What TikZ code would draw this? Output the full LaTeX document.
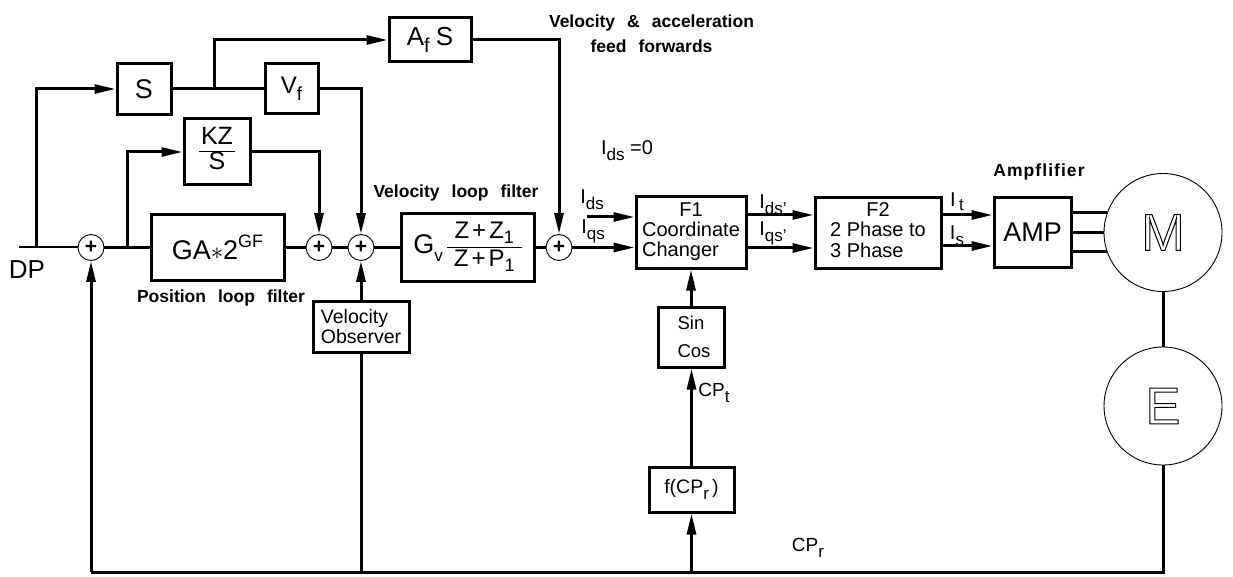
\documentclass[tikz,border=0pt]{standalone}
\usepackage{fontspec}
\setmainfont{Liberation Sans}
\usetikzlibrary{arrows.meta}
\newcommand{\fs}[1]{\fontsize{#1}{#1}\selectfont}
\newcommand{\Isb}[1]{I\raisebox{-0.3em}{\fs{17}#1}}
\newcommand{\outl}[1]{\special{pdf:literal direct 1 Tr 1 w}#1\special{pdf:literal direct 0 Tr}}
\newcommand{\wsp}{\spaceskip=12pt plus 2pt minus 1pt\relax}
\begin{document}
\begin{tikzpicture}[x=1pt,y=-1pt,
  blk/.style={draw, rectangle, line width=3pt, inner sep=0pt},
  sum/.style={draw, circle, line width=0.9pt, minimum size=26pt, inner sep=0pt, font=\fs{21}\bfseries},
  mach/.style={draw, circle, line width=0.9pt, minimum size=118pt, inner sep=0pt, font=\fs{52}},
  wire/.style={line width=3pt},
  arr/.style={line width=3pt, -{Triangle[length=21pt,width=9pt]}},
  sig/.style={inner sep=0pt, font=\fs{20}},
  lbl/.style={inner sep=0pt, font=\fs{17.5}\bfseries\wsp}
]
\useasboundingbox (0,0) rectangle (1233,577);

% blocks
\node[blk, minimum width=54pt, minimum height=51pt, font=\fs{27}] (S) at (144,89) {S};
\node[blk, minimum width=53pt, minimum height=50pt, font=\fs{24}] (Vf) at (291.5,89) {V\raisebox{-0.28em}{\fs{19}f}};
\node[blk, minimum width=82pt, minimum height=44pt, font=\fs{26}] (AfS) at (430,40) {A\raisebox{-0.28em}{\fs{20}f}\hspace{6pt}S};
\node[blk, minimum width=66pt, minimum height=66pt, font=\fs{25}] (KZ) at (217,152)
  {\setlength{\arrayrulewidth}{1.2pt}\renewcommand{\arraystretch}{0.85}\begin{tabular}{@{\hspace{2pt}}c@{\hspace{2pt}}}KZ\\\hline S\end{tabular}};
\node[blk, minimum width=133pt, minimum height=66pt, font=\fs{27}] (GA) at (217.5,247.5)
  {GA$\ast$2\raisebox{0.42em}{\fs{18}GF}};
\node[blk, minimum width=133pt, minimum height=67pt, font=\fs{27}] (Gv) at (467.5,247.5)
  {G\raisebox{-0.3em}{\fs{17}v}\hspace{4pt}\setlength{\arrayrulewidth}{1pt}\begin{tabular}{@{\hspace{7pt}}c@{\hspace{7pt}}}{\fs{24}Z\hspace{3pt}+\hspace{3pt}Z\raisebox{-0.2em}{\fs{18}1}}\\\hline{\fs{24}Z\hspace{3pt}+\hspace{3pt}P\raisebox{-0.2em}{\fs{18}1}}\end{tabular}};
\node[blk, minimum width=96pt, minimum height=51pt, font=\fs{19.5}, align=left] (VO) at (361,326.5) {Velocity\\Observer};
\node[blk, minimum width=110pt, minimum height=71pt, font=\fs{20}] (F1) at (691,232.5)
  {\begin{tabular}{@{}l@{}}\multicolumn{1}{@{}c@{}}{F1}\\Coordinate\\Changer\end{tabular}};
\node[blk, minimum width=126pt, minimum height=70pt, font=\fs{20}] (F2) at (878,233)
  {\begin{tabular}{@{}l@{}}\multicolumn{1}{@{}c@{}}{F2}\\2 Phase to\\3 Phase\end{tabular}};
\node[blk, minimum width=77pt, minimum height=70pt, font=\fs{27}] (AMP) at (1032.5,232.5) {AMP};
\node[blk, minimum width=66pt, minimum height=60pt, font=\fs{18.5}, align=center] (SC) at (691,337) {Sin\\[10pt]\hspace{6pt}Cos};
\node[blk, minimum width=85pt, minimum height=45pt, font=\fs{19.5}] (fCP) at (691.5,489.5) {f(CP\raisebox{-0.32em}{\fs{17}r}\,)};

% summing junctions
\node[sum] (s1) at (91,247.5) {+};
\node[sum] (s2) at (319,247.5) {+};
\node[sum] (s3) at (361,247.5) {+};
\node[sum] (s4) at (559,247.5) {+};

% machines
\node[mach] (M) at (1163,232.5) {\outl{M}};
\node[mach] (E) at (1163,406) {\outl{E}};

% coordinates
\coordinate (dpin) at (19,247.5);
\coordinate (j1) at (36,247.5);
\coordinate (j2) at (214,89);
\coordinate (j3) at (127,247.5);
\coordinate (idsin) at (587,217);
\coordinate (bl) at (91,572);
\coordinate (br) at (1163,572);

% connectors
\draw[line width=2pt] (dpin) -- (s1.west);
\draw[arr] (j1) |- (S.west);
\draw[wire] (S.east) -- (Vf.west);
\draw[arr] (j2) |- (AfS.west);
\draw[arr] (Vf.east) -| (s3.north);
\draw[arr] (AfS.east) -| (s4.north);
\draw[arr] (j3) |- (KZ.west);
\draw[arr] (KZ.east) -| (s2.north);
\draw[wire] (s1.east) -- (GA.west);
\draw[wire] (GA.east) -- (s2.west);
\draw[wire] (s2.east) -- (s3.west);
\draw[wire] (s3.east) -- (Gv.west);
\draw[wire] (Gv.east) -- (s4.west);
\draw[arr] (s4.east) -- (s4.east -| F1.west);
\draw[arr] (idsin) -- (idsin -| F1.west);
\draw[arr] ([yshift=17.5pt]F1.east) -- ([yshift=17.5pt]F1.east -| F2.west);
\draw[arr] ([yshift=-15.5pt]F1.east) -- ([yshift=-15.5pt]F1.east -| F2.west);
\draw[arr] ([yshift=18pt]F2.east) -- ([yshift=18pt]F2.east -| AMP.west);
\draw[arr] ([yshift=-13pt]F2.east) -- ([yshift=-13pt]F2.east -| AMP.west);
\draw[wire] (M.160 -| AMP.east) -- (M.160);
\draw[wire] (AMP.east) -- (M.west);
\draw[wire] (M.199 -| AMP.east) -- (M.199);
\draw[wire] (M.south) -- (E.north);
\draw[wire] (E.south) -- (br) -- (bl);
\draw[arr] (bl) -- (s1.south);
\draw[wire] (VO.south |- bl) -- (VO.south);
\draw[arr] (VO.north) -- (s3.south);
\draw[arr] (fCP.south |- bl) -- (fCP.south);
\draw[arr] (fCP.north) -- (fCP.north |- SC.south);
\draw[arr] (SC.north) -- (F1.south);

% labels
\node[sig, font=\fs{26}] (dp) at (27,270) {DP};
\node[lbl] (plf) at (221,298) {Position loop filter};
\node[lbl] (vlf) at (456,193) {Velocity loop filter};
\node[lbl, align=center] (vaf) at (651.5,33.5) {Velocity \& acceleration\\[7pt]feed forwards};
\node[lbl] (ampl) at (1039,172) {\addfontfeature{LetterSpace=6}Ampflifier};
\node[sig] (ids0) at (627,151) {\Isb{ds} =0};
\node[sig] (lids) at (592,200) {\Isb{ds}};
\node[sig] (liqs) at (593,231) {\Isb{qs}};
\node[sig] (lidsp) at (773,205) {\Isb{ds'}};
\node[sig] (liqsp) at (773,233) {\Isb{qs'}};
\node[sig] (lit) at (957,202) {I\,\raisebox{-0.2em}{\fs{17}t}};
\node[sig] (lis) at (957,236) {\Isb{s}};
\node[sig, font=\fs{19}] (cpt) at (714,393) {CP\raisebox{-0.3em}{\fs{17}t}};
\node[sig, font=\fs{19}] (cpr) at (808,548) {CP\raisebox{-0.3em}{\fs{17}r}};
\end{tikzpicture}
\end{document}
